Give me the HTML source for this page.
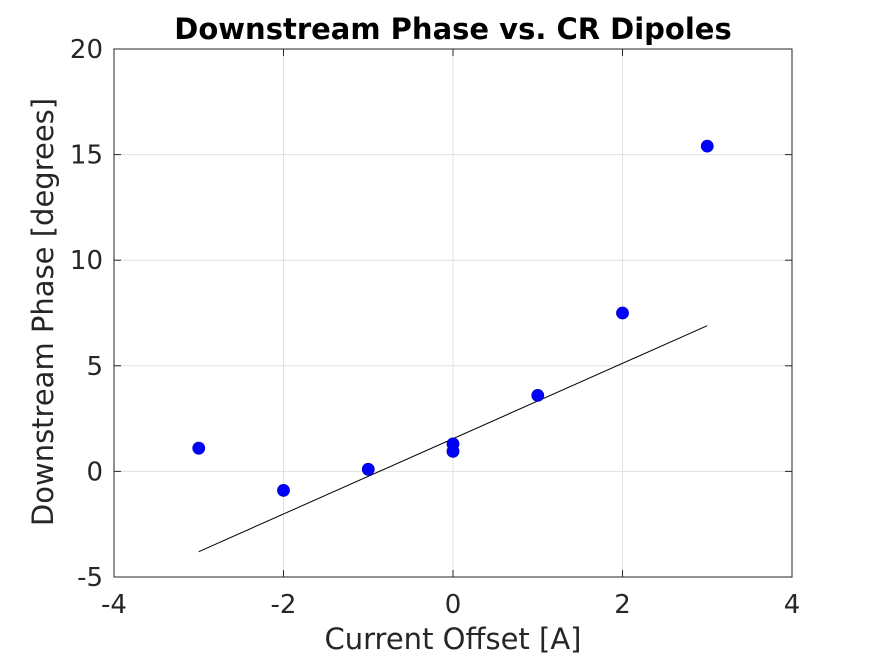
<!DOCTYPE html>
<html><head><meta charset="utf-8"><style>
body{margin:0;background:#fff;}
svg{display:block;font-family:"DejaVu Sans","Liberation Sans",sans-serif;}
</style></head><body>
<svg id="chart" width="875" height="656" xmlns="http://www.w3.org/2000/svg">
<rect width="875" height="656" fill="#fff"/>
</svg>
<script>
const xTicks=[-4,-2,0,2,4];
const yTicks=[-5,0,5,10,15,20];
const xVals=[-3,-2,-1,0,0,1,2,3];
const yVals=[1.1,-0.9,0.1,1.3,0.95,3.6,7.5,15.4];
const fitX=[-3,3];
const fitY=[-3.8,6.9];
const L=114,R=792,T=49,B=577;
const sx=v=>L+(v+4)/8*(R-L);
const sy=v=>B-(v+5)/25*(B-T);
const svg=document.getElementById('chart');
const NS='http://www.w3.org/2000/svg';
function mk(tag,attrs,parent){const e=document.createElementNS(NS,tag);for(const k in attrs)e.setAttribute(k,attrs[k]);(parent||svg).appendChild(e);return e;}
mk('rect',{x:L,y:T,width:R-L,height:B-T,fill:'#fff'});
xTicks.forEach(t=>{
 const g=mk('line',{x1:sx(t),x2:sx(t),y1:T,y2:B,stroke:'#e0e0e0','stroke-width':1});
 
 
 mk('line',{x1:sx(t),x2:sx(t),y1:B,y2:B-7,stroke:'#262626'});
 mk('line',{x1:sx(t),x2:sx(t),y1:T,y2:T+7,stroke:'#262626'});
 const tx=mk('text',{x:sx(t),y:B+36,'text-anchor':'middle','font-size':26,fill:'#262626'});
 tx.textContent=t;
 
 
});
yTicks.forEach(t=>{
 const g=mk('line',{x1:L,x2:R,y1:sy(t),y2:sy(t),stroke:'#e0e0e0','stroke-width':1});
 
 
 mk('line',{x1:L,x2:L+7,y1:sy(t),y2:sy(t),stroke:'#262626'});
 mk('line',{x1:R,x2:R-7,y1:sy(t),y2:sy(t),stroke:'#262626'});
 const tx=mk('text',{x:L-11,y:sy(t)+9,'text-anchor':'end','font-size':26,fill:'#262626'});
 tx.textContent=t;
 
 
});
const frame=mk('rect',{x:L,y:T,width:R-L,height:B-T,fill:'none',stroke:'#262626','stroke-width':1});


const fit=mk('line',{x1:sx(fitX[0]),y1:sy(fitY[0]),x2:sx(fitX[1]),y2:sy(fitY[1]),stroke:'#000','stroke-width':1});


xVals.forEach((x,i)=>{
 const c=mk('circle',{cx:sx(x),cy:sy(yVals[i]),r:6,fill:'#0000ff',stroke:'#0000cc','stroke-width':0.8});
 
 
});
const title=mk('text',{x:453,y:39,'text-anchor':'middle','font-size':29,'font-weight':'bold',fill:'#000'});
title.textContent='Downstream Phase vs. CR Dipoles';


const xl=mk('text',{x:(L+R)/2,y:649,'text-anchor':'middle','font-size':29,fill:'#262626'});
xl.textContent='Current Offset [A]';


const yl=mk('text',{x:0,y:0,'text-anchor':'middle','font-size':29,fill:'#262626',transform:`translate(53,312) rotate(-90)`});
yl.textContent='Downstream Phase [degrees]';


</script>
</body></html>
